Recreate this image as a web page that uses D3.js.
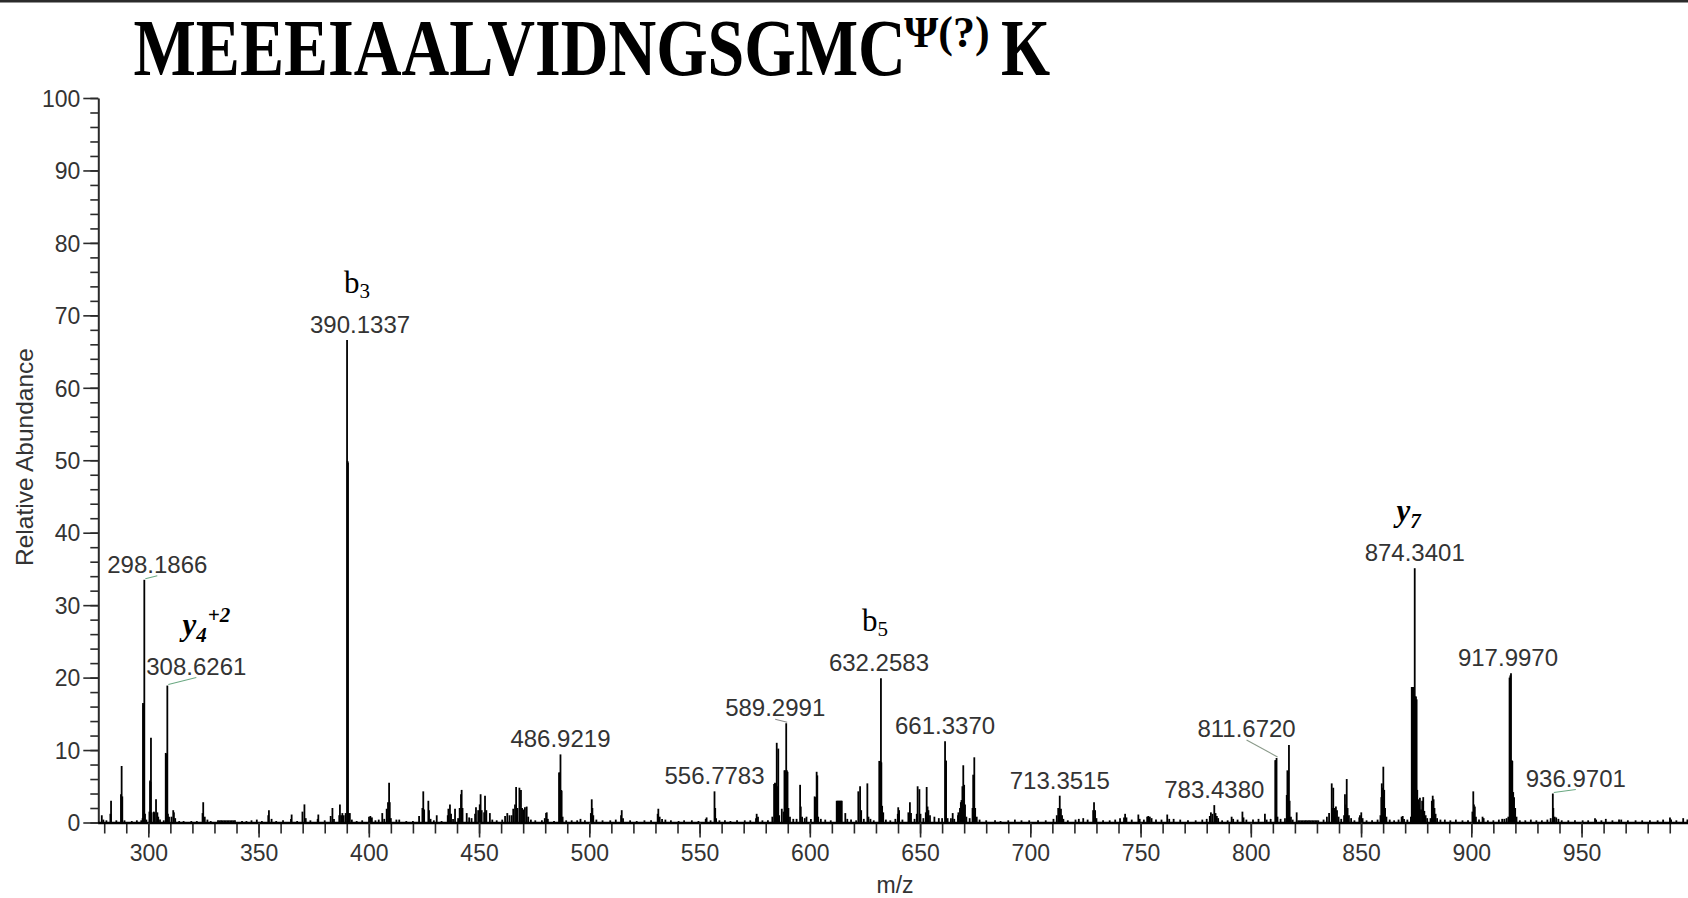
<!DOCTYPE html>
<html>
<head>
<meta charset="utf-8">
<script src="https://cdn.jsdelivr.net/npm/d3@7"></script>
<style>
  html, body { margin: 0; padding: 0; background: #fff; }
  svg { display: block; }
</style>
</head>
<body>
<svg id="chart" width="1688" height="898"></svg>
<script>
// ---------------- data ----------------
const peptide = { main: "MEEEIAALVIDNGSGMC", mod: "\u03A8(?)", tail: "K" };
const xAxisTitle = "m/z";
const yAxisTitle = "Relative Abundance";
const xTickLabels = [300, 350, 400, 450, 500, 550, 600, 650, 700, 750, 800, 850, 900, 950];
const yTickLabels = [0, 10, 20, 30, 40, 50, 60, 70, 80, 90, 100];

// centroid peaks that carry an m/z label: [m/z, relative abundance]
const labeledPeaks = [
  [298.1866, 33.5], [308.6261, 18.9], [390.1337, 66.6], [486.9219, 9.4],
  [556.7783, 4.3], [589.2991, 13.7], [632.2583, 19.9], [661.3370, 11.2],
  [713.3515, 3.7], [783.4380, 2.4], [811.6720, 8.9], [874.3401, 35.1],
  [917.9970, 20.6], [936.9701, 4.0]
];

// fragment ion assignments: [m/z of labelled peak, ion type, index, charge]
const fragmentIons = [
  [308.6261, "y", "4", "+2"],
  [390.1337, "b", "3", ""],
  [632.2583, "b", "5", ""],
  [874.3401, "y", "7", ""]
];

// remaining spectrum signals, [m/z, relative abundance]
const peaks277to350 = [
  [278.9,1.0],[279.6,0.4],[281.0,0.3],[282.8,1.2],[283.1,3.0],[285.5,0.3],[287.6,3.9],[287.9,7.8],
  [288.2,3.6],[289.2,0.3],[292.5,0.2],[294.8,0.3],[296.8,0.3],[297.4,0.6],[297.6,16.5],[297.8,16.3],
  [298.0,16.0],[298.5,1.2],[299.1,0.4],[300.5,1.5],[300.8,5.8],[301.0,5.6],[301.2,11.7],[301.5,1.4],
  [302.5,1.5],[302.8,1.4],[303.5,3.2],[304.1,1.4],[304.5,0.8],[305.3,0.4],[307.0,0.3],[307.9,9.6],
  [308.1,9.5],[308.35,9.4],[308.9,1.2],[309.4,0.8],[310.5,0.8],[311.3,1.7],[311.6,1.4],[312.2,0.6],
  [314.0,0.2],[316.0,0.2],[319.5,0.2],[322.0,0.2],[324.6,1.3],[324.9,2.8],[325.6,0.8],[326.8,0.4],
  [328.3,0.2],[331.6,0.3],[332.3,0.3],[333.0,0.3],[333.7,0.3],[334.4,0.3],[335.1,0.3],[335.8,0.3],
  [336.5,0.3],[337.2,0.3],[337.9,0.3],[338.6,0.3],[339.3,0.3],[342.5,0.2],[344.5,0.2],[346.8,0.3],
  [349.2,0.4]
];
const peaks350to450 = [
  [351.5,0.2],[354.4,1.0],[354.7,1.7],[355.9,0.5],[358.0,0.2],[361.1,0.3],[364.7,0.5],[365.0,1.1],
  [367.5,0.2],[369.9,1.5],[370.8,2.5],[371.4,0.6],[373.5,0.3],[376.8,0.5],[377.1,1.1],[380.0,0.3],
  [382.7,0.9],[383.5,2.0],[384.2,0.5],[386.6,1.0],[386.9,2.5],[387.5,1.0],[388.0,1.3],[388.6,1.0],
  [389.5,1.3],[390.35,49.9],[390.55,49.7],[390.8,1.3],[391.4,1.3],[392.3,0.4],[394.5,0.2],[397.0,0.3],
  [400.1,0.8],[400.7,0.9],[401.4,0.7],[403.0,0.3],[404.5,0.4],[406.1,1.3],[407.0,0.5],[408.1,1.9],
  [408.7,2.8],[409.2,5.5],[409.5,2.8],[410.0,0.6],[412.5,0.4],[413.8,0.4],[417.0,0.2],[420.0,0.2],
  [422.8,0.9],[424.3,2.0],[424.7,4.3],[425.1,1.8],[427.0,3.0],[427.3,1.7],[428.0,0.5],[429.5,0.3],
  [430.8,1.0],[433.0,0.2],[435.8,1.0],[436.1,1.9],[436.8,2.5],[437.3,1.2],[438.2,0.5],[439.1,1.9],
  [440.5,0.6],[441.2,2.0],[441.8,3.9],[442.1,4.5],[442.5,2.0],[444.4,1.3],[445.5,0.7],[446.6,0.6],
  [448.2,1.2],[448.6,2.1],[449.6,1.7]
];
const peaks450to550 = [
  [450.3,2.5],[450.7,3.9],[451.2,1.7],[452.3,1.4],[452.7,3.7],[453.3,1.7],[454.9,1.3],[456.0,0.4],
  [458.0,0.3],[460.5,0.4],[461.8,0.9],[462.8,1.3],[463.8,1.0],[464.8,1.0],[465.5,1.9],[466.3,2.5],
  [466.8,4.9],[467.4,2.0],[468.3,4.8],[469.0,4.5],[469.5,2.0],[470.1,1.8],[470.8,2.1],[471.6,2.2],
  [472.3,0.8],[473.5,0.4],[475.5,0.3],[478.5,0.3],[479.8,0.6],[480.4,1.3],[480.7,1.4],[481.2,0.5],
  [484.0,0.2],[486.3,6.9],[486.5,6.9],[486.7,6.8],[487.2,4.5],[487.45,4.4],[487.9,0.8],[489.5,0.3],
  [492.0,0.3],[494.5,0.3],[496.0,0.5],[498.0,0.3],[500.7,1.3],[501.1,3.2],[501.4,2.0],[501.8,1.0],
  [503.2,0.4],[506.0,0.3],[509.5,0.3],[512.0,0.4],[514.4,1.0],[514.7,1.7],[515.3,0.6],[518.5,0.3],
  [521.5,0.2],[525.0,0.3],[528.0,0.3],[531.0,1.2],[531.3,1.9],[531.9,0.8],[533.0,0.5],[534.5,0.4],
  [537.0,0.3],[540.5,0.2],[543.0,0.3],[546.5,0.3],[549.5,0.2]
];
const peaks550to650 = [
  [552.8,0.5],[553.2,0.7],[555.0,0.3],[557.1,2.0],[557.5,0.6],[559.0,0.3],[561.5,0.3],[564.0,0.2],
  [567.0,0.3],[570.5,0.3],[573.0,0.3],[575.6,0.6],[575.9,1.2],[576.5,0.8],[578.5,0.3],[581.0,0.3],
  [583.0,0.8],[583.8,5.3],[584.2,5.5],[584.6,5.4],[585.0,11.0],[585.35,5.0],[585.7,10.2],[586.1,1.0],
  [587.3,1.9],[588.1,1.5],[588.5,7.2],[588.8,7.2],[589.6,7.2],[589.9,7.0],[590.3,2.0],[591.0,0.8],
  [592.5,0.5],[594.0,0.5],[595.6,5.2],[595.9,2.2],[596.5,0.8],[597.7,0.6],[598.5,0.8],[600.5,0.5],
  [602.2,3.6],[602.6,3.5],[603.1,7.0],[603.4,6.5],[603.8,0.8],[605.0,0.5],[607.0,0.4],[609.5,0.3],
  [612.2,3.0],[612.6,3.0],[613.0,3.0],[613.4,3.0],[613.8,3.0],[614.2,3.0],[614.5,3.0],[616.1,1.3],
  [617.0,0.5],[618.7,0.4],[621.0,0.3],[622.0,4.3],[622.8,5.0],[623.3,1.7],[624.5,0.5],[626.1,5.4],
  [626.6,0.8],[627.5,0.5],[629.0,0.3],[631.5,8.5],[631.8,8.5],[632.05,8.4],[632.45,8.3],[632.8,2.3],
  [633.3,1.4],[634.5,0.4],[636.5,0.3],[638.8,0.5],[639.9,1.2],[640.1,2.1],[640.5,1.7],[642.0,0.4],
  [644.7,1.4],[645.4,2.8],[645.9,1.3],[647.5,0.5],[648.5,1.2],[648.9,5.0],[649.7,4.6]
];
const peaks650to800 = [
  [650.2,1.2],[651.5,0.6],[652.6,1.4],[653.0,4.9],[653.4,2.2],[653.8,1.7],[654.5,1.0],[656.5,0.8],
  [658.5,0.6],[660.0,0.6],[661.6,8.6],[661.8,8.5],[662.5,0.6],[664.0,0.6],[664.8,1.3],[665.5,0.5],
  [667.2,1.0],[667.4,1.4],[668.1,2.0],[668.5,2.8],[668.8,3.1],[669.2,5.0],[669.6,7.9],[670.0,5.2],
  [670.4,2.5],[671.0,0.8],[672.5,0.6],[673.8,2.0],[674.1,6.6],[674.6,9.0],[675.0,2.0],[675.7,0.8],
  [677.0,0.4],[680.0,0.3],[684.0,0.3],[686.5,0.2],[690.0,0.3],[693.0,0.4],[696.0,0.3],[699.5,0.3],
  [703.5,0.3],[707.0,0.3],[710.5,0.5],[712.0,1.0],[712.65,2.0],[713.9,1.9],[714.4,1.0],[715.0,0.5],
  [717.0,0.3],[720.5,0.4],[722.0,0.5],[724.0,0.6],[726.0,0.4],[728.5,1.7],[728.9,2.8],[729.4,1.7],
  [730.0,0.6],[733.0,0.3],[736.0,0.3],[738.5,0.4],[740.7,0.6],[742.5,0.7],[743.0,1.2],[743.6,0.7],
  [746.0,0.4],[749.0,1.1],[749.6,0.5],[751.5,0.4],[753.0,0.8],[753.5,0.9],[754.2,0.8],[755.0,0.6],
  [757.0,0.4],[759.5,0.4],[762.1,1.1],[763.0,0.5],[765.0,0.5],[768.0,0.4],[771.5,0.3],[775.0,0.3],
  [778.0,0.4],[780.0,0.5],[781.4,0.9],[781.9,1.4],[782.6,1.2],[784.0,1.3],[784.6,0.9],[785.2,0.6],
  [787.0,0.3],[789.5,0.3],[791.3,0.8],[792.0,0.5],[794.0,0.4],[796.2,1.5],[796.7,0.7],[798.0,0.4]
];
const peaks800to1000 = [
  [801.0,0.4],[803.5,0.5],[806.4,1.2],[807.2,0.4],[809.0,0.5],[811.1,8.6],[811.35,8.6],[812.1,0.8],
  [813.5,0.5],[815.5,0.6],[816.3,3.8],[816.6,7.2],[816.9,7.0],[817.3,10.7],[817.6,3.0],[818.2,0.8],
  [819.0,0.4],[820.8,1.4],[821.5,0.3],[822.2,0.3],[822.9,0.3],[823.6,0.3],[824.3,0.3],[825.0,0.3],
  [825.7,0.3],[826.4,0.3],[827.1,0.3],[827.8,0.3],[828.5,0.3],[829.2,0.3],[829.9,0.3],[830.6,0.3],
  [833.0,0.4],[834.5,0.8],[835.5,1.3],[836.7,5.4],[837.1,2.0],[837.4,4.8],[838.0,2.0],[838.6,2.2],
  [839.1,1.7],[839.8,0.8],[841.0,0.5],[842.3,1.0],[842.7,3.9],[843.2,2.5],[843.5,6.0],[843.9,2.0],
  [844.5,1.0],[845.5,0.6],[847.0,0.3],[849.2,0.7],[849.5,1.0],[850.1,1.4],[850.7,0.6],[852.5,0.3],
  [855.0,0.3],[857.5,0.4],[858.8,1.0],[859.2,3.5],[859.4,5.4],[859.8,4.8],[860.1,7.7],[860.5,4.5],
  [860.9,2.0],[861.5,0.8],[863.0,0.4],[865.0,0.3],[867.0,0.4],[868.4,0.8],[868.9,0.9],[869.5,0.5],
  [871.0,0.4],[872.6,0.8],[873.0,18.7],[873.35,18.7],[873.7,18.7],[874.05,18.6],[874.6,17.4],[874.9,17.4],
  [875.2,17.0],[875.5,4.5],[875.9,3.2],[876.3,2.5],[876.7,3.4],[877.2,1.8],[877.7,3.0],[878.2,3.5],
  [878.7,1.6],[879.3,1.0],[880.0,0.6],[881.5,0.6],[882.1,3.0],[882.5,3.7],[882.9,3.2],[883.3,2.0],
  [883.8,1.2],[884.5,0.6],[886.0,0.4],[888.0,0.4],[890.5,0.3],[893.0,0.4],[896.0,0.3],[898.5,0.3],
  [900.5,1.5],[900.9,4.3],[901.2,2.5],[901.6,2.2],[902.1,0.8],[903.5,0.4],[905.1,0.8],[905.6,0.6],
  [907.5,0.3],[910.0,0.3],[912.5,0.4],[914.0,0.5],[915.0,0.5],[916.0,0.6],[916.8,0.8],[917.35,20.0],
  [917.7,20.3],[918.3,8.6],[918.6,8.5],[919.0,4.2],[919.4,3.5],[919.9,2.0],[920.5,0.8],[922.0,0.3],
  [924.5,0.3],[927.0,0.4],[929.5,0.3],[932.0,0.3],[934.5,0.4],[936.0,0.6],[937.2,2.0],[937.8,0.8],
  [938.5,0.7],[939.5,0.5],[941.0,0.3],[944.0,0.3],[947.0,0.3],[950.5,0.3],[953.0,0.3],[956.1,0.6],
  [956.6,0.4],[959.0,0.3],[961.0,0.5],[964.0,0.3],[967.0,0.4],[968.0,0.4],[971.0,0.3],[974.5,0.3],
  [977.5,0.3],[981.0,0.3],[984.5,0.3],[987.0,0.4],[990.1,0.7],[990.6,0.4],[993.0,0.3],[996.1,0.6],
  [998.0,0.4]
];

// ---------------- layout ----------------
const W = 1688, H = 898;
const plot = { left: 97.6, right: 1691.8, top: 98, bottom: 822.5 };
const sans = "'Liberation Sans', Arial, Helvetica, sans-serif";
const serif = "'Liberation Serif', 'Times New Roman', Times, serif";
const textColor = "#333";

// label nudges (pixels) for crowded peaks, and which ones get a connector
const labelPlacement = {
  "298.1866": { dx: 13, dy: 0, leader: "#6aa882" },
  "308.6261": { dx: 29, dy: -4, leader: "#6aa882" },
  "390.1337": { dx: 13, dy: 0 },
  "589.2991": { dx: -11, dy: 0, leader: "#8a8a8a" },
  "632.2583": { dx: -2, dy: 0 },
  "811.6720": { dx: -30, dy: -14, leader: "#8a9a8a" },
  "917.9970": { dx: -3, dy: 0 },
  "936.9701": { dx: 23, dy: 0, leader: "#6aa882" }
};
// ion annotation placement relative to the m/z label centre
const ionOffset = { "308.6261": 10, "390.1337": -3, "632.2583": -4, "874.3401": -6 };
const ionStyle = {
  b: { weight: "normal", italic: false, size: 31, subSize: 21, subDy: 5 },
  y: { weight: "bold", italic: true, size: 31, subSize: 21, subDy: 7 }
};

const svg = d3.select("#chart");
svg.append("rect").attr("width", W).attr("height", H).attr("fill", "#fff");

// frame line across the top edge
svg.append("rect").attr("x", 0).attr("y", 0).attr("width", W).attr("height", 2.5).attr("fill", "#2b2b2b");

const x = d3.scaleLinear().domain([277, 1000]).range([plot.left, plot.right]);
const y = d3.scaleLinear().domain([0, 100]).range([plot.bottom, plot.top]);

// ---------------- title ----------------
// condensed bold serif peptide with the modified-residue superscript
const titleG = svg.append("g")
  .attr("font-family", serif)
  .attr("font-weight", "bold")
  .attr("fill", "#000");
titleG.append("text")
  .attr("transform", "translate(133.5,75.4) scale(0.816,1)")
  .attr("font-size", 81)
  .text(peptide.main);
titleG.append("text")
  .attr("x", 904).attr("y", 47)
  .attr("font-size", 44)
  .text(peptide.mod);
titleG.append("text")
  .attr("transform", "translate(1001,75.4) scale(0.78,1)")
  .attr("font-size", 81)
  .text(peptide.tail);

// ---------------- spectrum ----------------
const allPeaks = [].concat(peaks277to350, peaks350to450, peaks450to550,
  peaks550to650, peaks650to800, peaks800to1000, labeledPeaks)
  .filter(d => d[0] >= 277 && d[0] <= 1000);

svg.append("g")
  .selectAll("line")
  .data(allPeaks)
  .join("line")
  .attr("x1", d => x(d[0]))
  .attr("x2", d => x(d[0]))
  .attr("y1", y(0))
  .attr("y2", d => y(d[1]))
  .attr("stroke", "#000")
  .attr("stroke-width", 1.8);

// ---------------- axes ----------------
const axisColor = "#2a2a2a";
function styleAxis(g, fontSize) {
  g.selectAll(".tick line").attr("stroke", axisColor).attr("stroke-width", 1.6);
  g.selectAll(".tick text")
    .attr("font-family", sans)
    .attr("font-size", fontSize)
    .attr("fill", textColor);
}

// y axis: minor every 2, major every 10
const yMinor = svg.append("g").attr("transform", `translate(${plot.left + 0.7},0)`)
  .call(d3.axisLeft(y).tickValues(d3.range(0, 101, 2)).tickSize(8).tickSizeOuter(0).tickFormat(""));
yMinor.select(".domain").remove();
styleAxis(yMinor, 23);
const yMajor = svg.append("g").attr("transform", `translate(${plot.left + 0.7},0)`)
  .call(d3.axisLeft(y).tickValues(yTickLabels).tickSize(15).tickSizeOuter(0).tickPadding(3));
yMajor.select(".domain").attr("stroke", axisColor).attr("stroke-width", 2);
styleAxis(yMajor, 23);
yMajor.selectAll(".tick text").attr("dy", "0.36em");

// x axis: minor every 10, major every 50
const xMinor = svg.append("g").attr("transform", `translate(0,${plot.bottom})`)
  .call(d3.axisBottom(x).tickValues(d3.range(280, 1000, 10)).tickSize(11).tickSizeOuter(0).tickFormat(""));
xMinor.select(".domain").remove();
styleAxis(xMinor, 23);
const xMajor = svg.append("g").attr("transform", `translate(0,${plot.bottom})`)
  .call(d3.axisBottom(x).tickValues(xTickLabels).tickSize(15).tickSizeOuter(0).tickPadding(7));
xMajor.select(".domain").attr("stroke", "#000").attr("stroke-width", 2.6);
styleAxis(xMajor, 23);

// axis titles
svg.append("text")
  .attr("x", 895).attr("y", 893)
  .attr("text-anchor", "middle")
  .attr("font-family", sans).attr("font-size", 23).attr("fill", textColor)
  .text(xAxisTitle);
svg.append("text")
  .attr("transform", "translate(33,457) rotate(-90)")
  .attr("text-anchor", "middle")
  .attr("font-family", sans).attr("font-size", 24.5).attr("fill", textColor)
  .text(yAxisTitle);

// ---------------- peak labels ----------------
const labelGap = 7;
const labelInfo = labeledPeaks.map(([mz, rel]) => {
  const key = mz.toFixed(4);
  const p = labelPlacement[key] || { dx: 0, dy: 0 };
  return {
    key, mz, rel,
    px: x(mz), py: y(rel),
    lx: x(mz) + p.dx,
    ly: y(rel) - labelGap + p.dy,
    leader: p.leader
  };
});

// connectors from peak apex to the displaced label
svg.append("g")
  .selectAll("line")
  .data(labelInfo.filter(d => d.leader))
  .join("line")
  .attr("x1", d => d.px + 1).attr("y1", d => d.py - 1)
  .attr("x2", d => d.lx).attr("y2", d => d.ly + 3)
  .attr("stroke", d => d.leader)
  .attr("stroke-width", 1.1);

svg.append("g")
  .selectAll("text")
  .data(labelInfo)
  .join("text")
  .attr("x", d => d.lx)
  .attr("y", d => d.ly)
  .attr("text-anchor", "middle")
  .attr("font-family", sans)
  .attr("font-size", 24)
  .attr("fill", textColor)
  .text(d => d.key);

// ---------------- fragment ion annotations ----------------
const ionGroup = svg.append("g");
fragmentIons.forEach(([mz, ion, idx, charge]) => {
  const key = mz.toFixed(4);
  const info = labelInfo.find(d => d.key === key);
  const st = ionStyle[ion];
  const t = ionGroup.append("text")
    .attr("x", info.lx + (ionOffset[key] || 0))
    .attr("y", info.ly - 40)
    .attr("text-anchor", "middle")
    .attr("font-family", serif)
    .attr("font-weight", st.weight)
    .attr("font-style", st.italic ? "italic" : "normal")
    .attr("font-size", st.size)
    .attr("fill", "#000");
  t.append("tspan").text(ion);
  t.append("tspan").attr("font-size", st.subSize).attr("dy", st.subDy).text(idx);
  if (charge) {
    t.append("tspan").attr("font-size", st.subSize).attr("dy", -20).attr("dx", 1).text(charge);
  }
});
</script>
</body>
</html>
